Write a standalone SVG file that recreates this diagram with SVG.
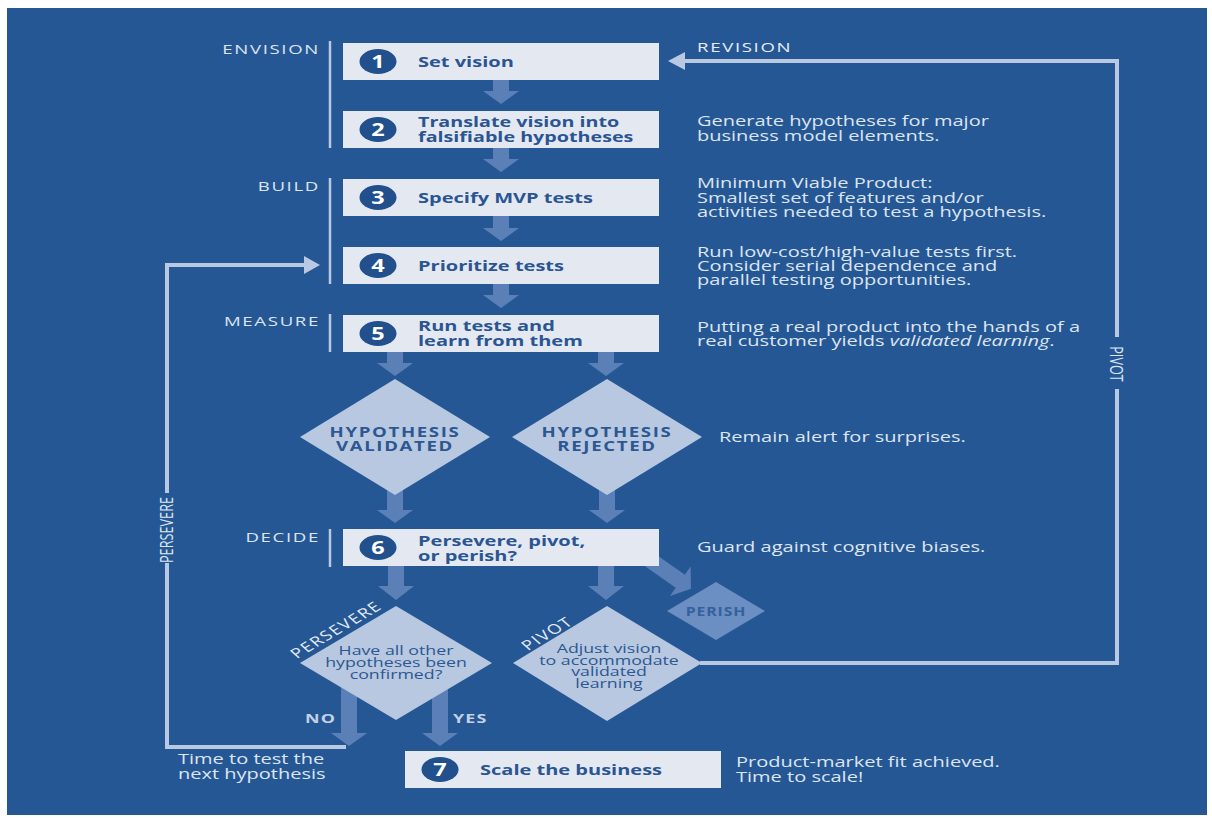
<svg xmlns="http://www.w3.org/2000/svg" width="1212" height="818" viewBox="0 0 1212 818">
<style>
text{font-family:"Open Sans","DejaVu Sans",sans-serif}
.bx{fill:#e4e9f1}
.num{fill:#22508d}
.n{font-weight:700;font-size:17px;fill:#ffffff;text-anchor:middle}
.b{font-weight:700;font-size:14.5px;fill:#2b5592}
.d{font-size:14.5px;fill:#dce5f0}
.p{font-size:13.5px;fill:#dce5f0;letter-spacing:1.2px}
.pe{text-anchor:end}
.dia{fill:#b7c8e0}
.h{font-weight:700;font-size:13.5px;fill:#2c5792;letter-spacing:1.2px;text-anchor:middle}
.q{font-size:12.5px;fill:#2c5792;text-anchor:middle}
.ar{fill:#5b80b8}
.ln{fill:none;stroke:#b8c9e1;stroke-width:4}
.lh{fill:#b8c9e1}
.rl{font-size:13.5px;fill:#e6edf6;letter-spacing:1.2px}
.vl{font-size:12.7px;fill:#dce5f0;text-anchor:middle}
.yn{font-weight:700;font-size:13px;fill:#c3d1e5;letter-spacing:0.8px}
.per{fill:#6b8fc2}
.pt{font-weight:700;font-size:11.5px;fill:#35609b;letter-spacing:0.6px;text-anchor:middle}
</style>
<rect x="0" y="0" width="1212" height="818" fill="#ffffff"/>
<rect x="7" y="8" width="1200" height="807" fill="#265795"/>

<g id="connectors">
  <polygon class="ar" points="493,78 509,78 509,91 519,91 501,104 483,91 493,91"/>
  <polygon class="ar" points="493,146 509,146 509,159 519,159 501,172 483,159 493,159"/>
  <polygon class="ar" points="493,214 509,214 509,228 519,228 501,241 483,228 493,228"/>
  <polygon class="ar" points="493,282 509,282 509,295 519,295 501,308 483,295 493,295"/>
  <polygon class="ar" points="387,350 403,350 403,363 413,363 395,376 377,363 387,363"/>
  <polygon class="ar" points="598,350 614,350 614,363 624,363 606,376 588,363 598,363"/>
  <polygon class="ar" points="387,470 403,470 403,510 413,510 395,523 377,510 387,510"/>
  <polygon class="ar" points="599,470 615,470 615,510 625,510 607,523 589,510 599,510"/>
  <polygon class="ar" points="388,564 404,564 404,586 414,586 396,600 378,586 388,586"/>
  <polygon class="ar" points="598,564 614,564 614,586 624,586 606,600 588,586 598,586"/>
  <polygon class="ar" transform="translate(650,560) rotate(-55)" points="-8,0 8,0 8,37 18,37 0,50 -18,37 -8,37"/>
  <polygon class="ar" points="341,680 357,680 357,733 367,733 349,746 331,733 341,733"/>
  <polygon class="ar" points="432,680 448,680 448,733 458,733 440,746 422,733 432,733"/>
  <polyline class="ln" points="346,747 167,747 167,563"/>
  <polyline class="ln" points="167,493 167,265 305,265"/>
  <polygon class="lh" points="304,256 320,265 304,274"/>
  <polyline class="ln" points="700,663 1117,663 1117,389"/>
  <polyline class="ln" points="1117,337 1117,61 683,61"/>
  <polygon class="lh" points="685,52 668,61 685,70"/>
  <line x1="330" y1="41" x2="330" y2="148" stroke="#b8c9e1" stroke-width="2.5"/>
  <line x1="330" y1="178" x2="330" y2="284" stroke="#b8c9e1" stroke-width="2.5"/>
  <line x1="330" y1="314" x2="330" y2="352" stroke="#b8c9e1" stroke-width="2.5"/>
  <line x1="330" y1="529" x2="330" y2="567" stroke="#b8c9e1" stroke-width="2.5"/>
  <text class="vl" transform="translate(173,530) scale(1.38,1) rotate(-90)">PERSEVERE</text>
  <text class="vl" transform="translate(1110,364) scale(1.38,1) rotate(90)">PIVOT</text>
  <text class="rl" transform="matrix(1.38 0 0 1 697 52)">REVISION</text>
  <text class="yn" transform="matrix(1.38 0 0 1 305 723)">NO</text>
  <text class="yn" transform="matrix(1.38 0 0 1 453 723)">YES</text>
</g>

<g id="phases">
  <text class="p pe" transform="matrix(1.38 0 0 1 320 54)">ENVISION</text>
  <text class="p pe" transform="matrix(1.38 0 0 1 320 191)">BUILD</text>
  <text class="p pe" transform="matrix(1.38 0 0 1 320 326)">MEASURE</text>
  <text class="p pe" transform="matrix(1.38 0 0 1 320 542)">DECIDE</text>
</g>

<g id="step1">
  <rect class="bx" x="343" y="43" width="316" height="37"/>
  <ellipse class="num" cx="378" cy="61.5" rx="18.5" ry="12.5"/>
  <text class="n" transform="matrix(1.38 0 0 1 378 67.5)">1</text>
  <text class="b" transform="matrix(1.38 0 0 1 418 67)">Set vision</text>
</g>
<g id="step2">
  <rect class="bx" x="343" y="111" width="316" height="37"/>
  <ellipse class="num" cx="378" cy="129.5" rx="18.5" ry="12.5"/>
  <text class="n" transform="matrix(1.38 0 0 1 378 135.5)">2</text>
  <text class="b" transform="matrix(1.36 0 0 1 418 0)"><tspan x="0" y="127">Translate vision into</tspan><tspan x="0" y="142">falsifiable hypotheses</tspan></text>
</g>
<g id="step3">
  <rect class="bx" x="343" y="179" width="316" height="37"/>
  <ellipse class="num" cx="378" cy="197.5" rx="18.5" ry="12.5"/>
  <text class="n" transform="matrix(1.38 0 0 1 378 203.5)">3</text>
  <text class="b" transform="matrix(1.38 0 0 1 418 203)">Specify MVP tests</text>
</g>
<g id="step4">
  <rect class="bx" x="343" y="247" width="316" height="37"/>
  <ellipse class="num" cx="378" cy="265.5" rx="18.5" ry="12.5"/>
  <text class="n" transform="matrix(1.38 0 0 1 378 271.5)">4</text>
  <text class="b" transform="matrix(1.38 0 0 1 418 271)">Prioritize tests</text>
</g>
<g id="step5">
  <rect class="bx" x="343" y="315" width="316" height="37"/>
  <ellipse class="num" cx="378" cy="333.5" rx="18.5" ry="12.5"/>
  <text class="n" transform="matrix(1.38 0 0 1 378 339.5)">5</text>
  <text class="b" transform="matrix(1.38 0 0 1 418 0)"><tspan x="0" y="331">Run tests and</tspan><tspan x="0" y="346">learn from them</tspan></text>
</g>
<g id="validated">
  <polygon class="dia" points="300,437 395,379 490,437 395,495"/>
  <text class="h" transform="matrix(1.38 0 0 1 395 0)"><tspan x="0" y="437">HYPOTHESIS</tspan><tspan x="0" y="451">VALIDATED</tspan></text>
</g>
<g id="rejected">
  <polygon class="dia" points="512,437 607,379 702,437 607,495"/>
  <text class="h" transform="matrix(1.38 0 0 1 607 0)"><tspan x="0" y="437">HYPOTHESIS</tspan><tspan x="0" y="451">REJECTED</tspan></text>
</g>
<g id="step6">
  <rect class="bx" x="343" y="529" width="316" height="37"/>
  <ellipse class="num" cx="378" cy="547.5" rx="18.5" ry="12.5"/>
  <text class="n" transform="matrix(1.38 0 0 1 378 553.5)">6</text>
  <text class="b" transform="matrix(1.38 0 0 1 418 0)"><tspan x="0" y="546">Persevere, pivot,</tspan><tspan x="0" y="561">or perish?</tspan></text>
</g>
<g id="perish">
  <polygon class="per" points="667,611 716,582 765,611 716,640"/>
  <text class="pt" transform="matrix(1.38 0 0 1 716 616)">PERISH</text>
</g>
<g id="persevere">
  <polygon class="dia" points="300,663 396,606 492,663 396,720"/>
  <text class="q" transform="matrix(1.42 0 0 1 396 0)"><tspan x="0" y="655">Have all other</tspan><tspan x="0" y="667">hypotheses been</tspan><tspan x="0" y="679">confirmed?</tspan></text>
  <text class="rl" transform="translate(297,659) scale(1.38,1) rotate(-39.4)">PERSEVERE</text>
</g>
<g id="pivot">
  <polygon class="dia" points="513,663 607,606 702,663 607,721"/>
  <text class="q" transform="matrix(1.42 0 0 1 609 0)"><tspan x="0" y="653">Adjust vision</tspan><tspan x="0" y="664.7">to accommodate</tspan><tspan x="0" y="676.3">validated</tspan><tspan x="0" y="688">learning</tspan></text>
  <text class="rl" transform="translate(528,651) scale(1.38,1) rotate(-39.4)">PIVOT</text>
</g>
<g id="step7">
  <rect class="bx" x="405" y="751" width="316" height="37"/>
  <ellipse class="num" cx="440" cy="769.5" rx="18.5" ry="12.5"/>
  <text class="n" transform="matrix(1.38 0 0 1 440 775.5)">7</text>
  <text class="b" transform="matrix(1.38 0 0 1 480 775)">Scale the business</text>
</g>

<g id="notes">
  <text class="d" transform="matrix(1.38 0 0 1 697 0)"><tspan x="0" y="126">Generate hypotheses for major</tspan><tspan x="0" y="141">business model elements.</tspan></text>
  <text class="d" transform="matrix(1.38 0 0 1 697 0)"><tspan x="0" y="188">Minimum Viable Product:</tspan><tspan x="0" y="203">Smallest set of features and/or</tspan><tspan x="0" y="217">activities needed to test a hypothesis.</tspan></text>
  <text class="d" transform="matrix(1.38 0 0 1 697 0)"><tspan x="0" y="257">Run low-cost/high-value tests first.</tspan><tspan x="0" y="271">Consider serial dependence and</tspan><tspan x="0" y="285">parallel testing opportunities.</tspan></text>
  <text class="d" transform="matrix(1.38 0 0 1 697 0)"><tspan x="0" y="332">Putting a real product into the hands of a</tspan><tspan x="0" y="346">real customer yields <tspan font-style="italic">validated learning</tspan>.</tspan></text>
  <text class="d" transform="matrix(1.38 0 0 1 719 442)">Remain alert for surprises.</text>
  <text class="d" transform="matrix(1.38 0 0 1 697 552)">Guard against cognitive biases.</text>
  <text class="d" transform="matrix(1.38 0 0 1 736 0)"><tspan x="0" y="767">Product-market fit achieved.</tspan><tspan x="0" y="782">Time to scale!</tspan></text>
  <text class="d" transform="matrix(1.38 0 0 1 178 0)"><tspan x="0" y="764">Time to test the</tspan><tspan x="0" y="779">next hypothesis</tspan></text>
</g>
</svg>
